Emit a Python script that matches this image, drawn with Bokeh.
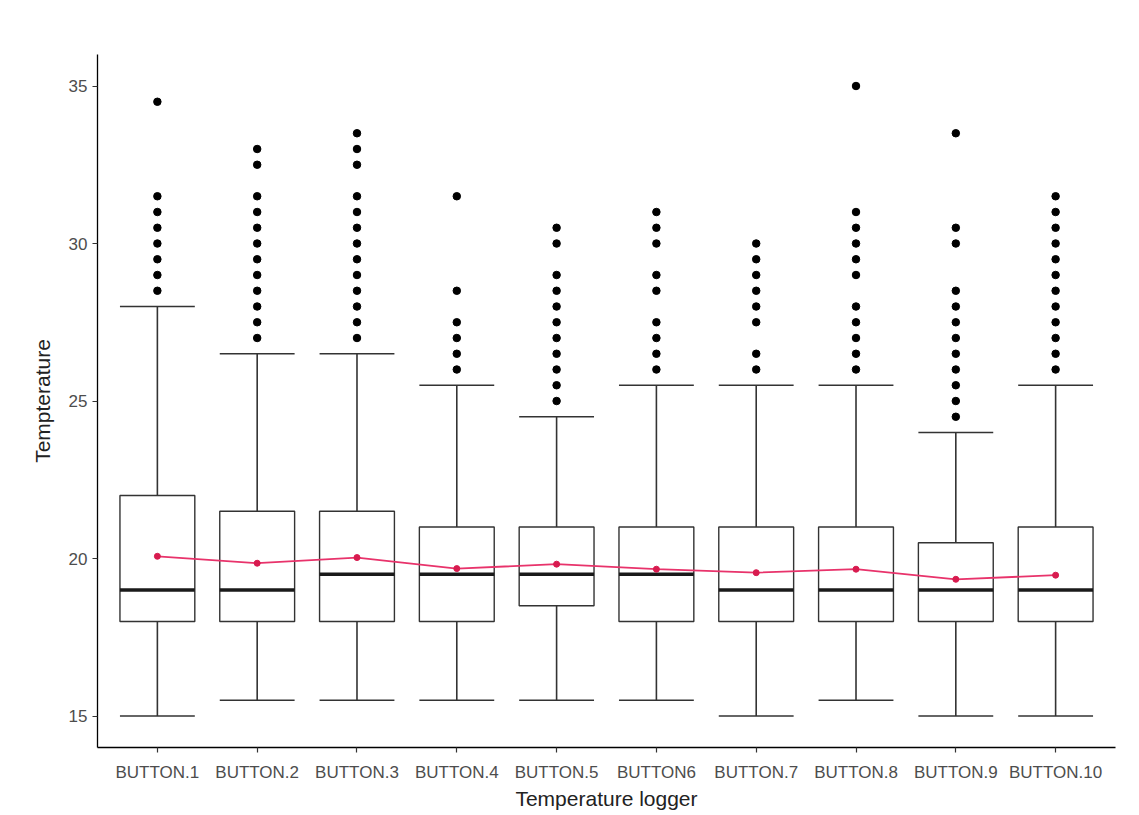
from bokeh.plotting import figure
from bokeh.models import ColumnDataSource, FixedTicker
from bokeh.embed import file_html
from bokeh.resources import INLINE

categories = ["BUTTON.1", "BUTTON.2", "BUTTON.3", "BUTTON.4", "BUTTON.5",
              "BUTTON6", "BUTTON.7", "BUTTON.8", "BUTTON.9", "BUTTON.10"]
lower = [15, 15.5, 15.5, 15.5, 15.5, 15.5, 15, 15.5, 15, 15]
q1 = [18, 18, 18, 18, 18.5, 18, 18, 18, 18, 18]
median = [19, 19, 19.5, 19.5, 19.5, 19.5, 19, 19, 19, 19]
q3 = [22, 21.5, 21.5, 21, 21, 21, 21, 21, 20.5, 21]
upper = [28, 26.5, 26.5, 25.5, 24.5, 25.5, 25.5, 25.5, 24, 25.5]
means = [20.07, 19.85, 20.03, 19.68, 19.82, 19.66, 19.55, 19.66, 19.34, 19.47]
outliers = [
    [34.5, 31.5, 31, 30.5, 30, 29.5, 29, 28.5],
    [33, 32.5, 31.5, 31, 30.5, 30, 29.5, 29, 28.5, 28, 27.5, 27],
    [33.5, 33, 32.5, 31.5, 31, 30.5, 30, 29.5, 29, 28.5, 28, 27.5, 27],
    [31.5, 28.5, 27.5, 27, 26.5, 26],
    [30.5, 30, 29, 28.5, 28, 27.5, 27, 26.5, 26, 25.5, 25],
    [31, 30.5, 30, 29, 28.5, 27.5, 27, 26.5, 26],
    [30, 29.5, 29, 28.5, 28, 27.5, 26.5, 26],
    [35, 31, 30.5, 30, 29.5, 29, 28, 27.5, 27, 26.5, 26],
    [33.5, 30.5, 30, 28.5, 28, 27.5, 27, 26.5, 26, 25.5, 25, 24.5],
    [31.5, 31, 30.5, 30, 29.5, 29, 28.5, 28, 27.5, 27, 26.5, 26],
]

xs = list(range(1, len(categories) + 1))
bw = 0.75
src = ColumnDataSource(dict(
    x=xs, x0=[x - bw / 2 for x in xs], x1=[x + bw / 2 for x in xs],
    lower=lower, q1=q1, median=median, q3=q3, upper=upper, mean=means))

ox, oy = [], []
for x, vals in zip(xs, outliers):
    for v in vals:
        ox.append(x)
        oy.append(v)

p = figure(width=1130, height=812, output_backend="svg", toolbar_location=None,
           x_range=(0.4, 10.6), y_range=(14, 36),
           min_border_left=97, min_border_right=15, min_border_top=54,
           min_border_bottom=64)
p.outline_line_color = None
p.xgrid.visible = False
p.ygrid.visible = False
p.background_fill_color = "white"

line_col = "#333333"
# whiskers
p.segment(x0="x", x1="x", y0="q3", y1="upper", source=src, line_color=line_col, line_width=1.6)
p.segment(x0="x", x1="x", y0="q1", y1="lower", source=src, line_color=line_col, line_width=1.6)
# caps
p.segment(x0="x0", x1="x1", y0="upper", y1="upper", source=src, line_color=line_col, line_width=1.6)
p.segment(x0="x0", x1="x1", y0="lower", y1="lower", source=src, line_color=line_col, line_width=1.6)
# boxes
p.vbar(x="x", width=bw, top="q3", bottom="q1", source=src, fill_color="white",
       line_color=line_col, line_width=1.4)
# medians
p.segment(x0="x0", x1="x1", y0="median", y1="median", source=src, line_color="#1a1a1a", line_width=3.4)
# outliers
p.scatter(ox, oy, size=7.5, color="black")
# mean line
p.line(x="x", y="mean", source=src, line_color="#e8336b", line_width=1.8)
p.scatter(x="x", y="mean", source=src, size=6, color="#d81b4f")

font = "'Liberation Sans', Arial, sans-serif"
p.xaxis.ticker = FixedTicker(ticks=xs)
p.xaxis.major_label_overrides = {x: c for x, c in zip(xs, categories)}
p.yaxis.ticker = FixedTicker(ticks=[15, 20, 25, 30, 35])
for ax in (p.xaxis[0], p.yaxis[0]):
    ax.axis_line_color = "black"
    ax.axis_line_width = 1.3
    ax.major_tick_line_color = "#333333"
    ax.major_tick_line_width = 1.2
    ax.major_tick_out = 5
    ax.major_tick_in = 0
    ax.minor_tick_line_color = None
    ax.major_label_text_color = "#4d4d4d"
    ax.major_label_text_font = font
    ax.major_label_text_font_size = "17px"
    ax.axis_label_text_font = font
    ax.axis_label_text_font_style = "normal"
    ax.axis_label_text_font_size = "21px"
    ax.axis_label_text_color = "#222222"
p.xaxis.axis_label = "Temperature logger"
p.yaxis.axis_label = "Tempterature"
p.xaxis.major_label_standoff = 10
p.xaxis.axis_label_standoff = 2
p.yaxis.major_label_standoff = 5
p.yaxis.axis_label_standoff = 12

open("out.html", "w").write(file_html(p, INLINE))
